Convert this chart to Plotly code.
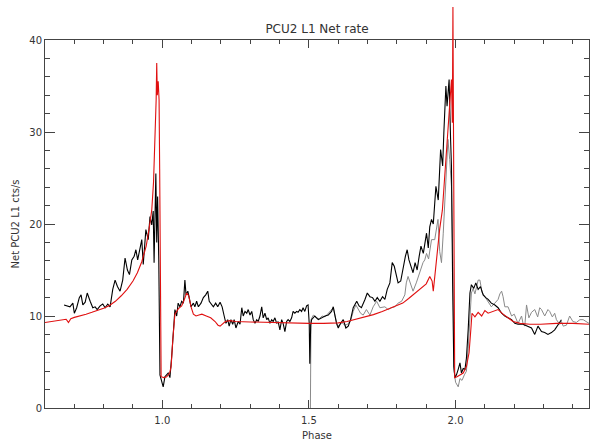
import plotly.graph_objects as go

# ---------------- data ----------------
title_text = "PCU2 L1 Net rate"
x_title = "Phase"
y_title = "Net PCU2 L1 cts/s"
x_range = [0.6, 2.455]
y_range = [0, 40]
x_major = [1.0, 1.5, 2.0]
x_major_labels = ["1.0", "1.5", "2.0"]
y_major = [0, 10, 20, 30, 40]
y_major_labels = ["0", "10", "20", "30", "40"]

# model (red)
red_phase = [0.600, 0.620, 0.640, 0.660, 0.672, 0.680, 0.688, 0.700, 0.720, 0.740,
             0.760, 0.780, 0.800, 0.820, 0.840, 0.860, 0.880, 0.900, 0.915, 0.930,
             0.945, 0.955, 0.964, 0.970, 0.975, 0.979, 0.981, 0.983, 0.986, 0.989,
             0.991, 0.993, 0.996, 1.005, 1.015, 1.025, 1.030, 1.036, 1.043, 1.055,
             1.066, 1.075, 1.083, 1.090, 1.098, 1.106, 1.115, 1.125, 1.135, 1.150,
             1.165, 1.180, 1.190, 1.197, 1.205, 1.215, 1.230, 1.250, 1.300, 1.350,
             1.400, 1.450, 1.500, 1.550, 1.600, 1.630, 1.660, 1.690, 1.720, 1.750,
             1.780, 1.800, 1.820, 1.840, 1.860, 1.880, 1.900, 1.912, 1.920, 1.924,
             1.930, 1.936, 1.946, 1.955, 1.963, 1.975, 1.982, 1.986, 1.989, 1.991,
             1.993, 1.995, 1.997, 2.005, 2.015, 2.026, 2.037, 2.046, 2.052, 2.056,
             2.066, 2.077, 2.089, 2.100, 2.111, 2.128, 2.145, 2.162, 2.179, 2.196,
             2.220, 2.253, 2.290, 2.344, 2.400, 2.455]
red_rate = [9.3, 9.4, 9.55, 9.6, 9.65, 9.3, 9.7, 9.85, 10.0, 10.2,
            10.4, 10.6, 10.85, 11.15, 11.6, 12.2, 12.9, 13.8, 14.7, 15.9,
            17.6, 19.5, 21.5, 24.5, 29.0, 33.5, 37.5, 34.0, 35.5, 33.5,
            26.0, 10.0, 3.4, 3.3, 3.4, 3.8, 4.5, 7.5, 10.2, 10.8,
            11.1, 11.8, 12.5, 12.2, 11.0, 10.2, 10.0, 10.1, 10.2, 10.0,
            9.8, 9.4, 9.0, 8.9, 9.1, 9.4, 9.5, 9.4, 9.35, 9.3,
            9.25, 9.2, 9.2, 9.2, 9.25, 9.4, 9.65, 9.9, 10.15, 10.5,
            10.85, 11.1, 11.4, 11.9, 12.4, 12.9, 13.5, 14.3, 13.8, 12.7,
            14.8, 16.8, 19.5, 21.5, 25.0, 31.0, 34.0, 35.7, 31.0, 43.6,
            30.0, 12.0, 3.3, 3.4, 3.6, 3.8, 4.5, 6.0, 8.5, 10.3,
            9.9, 10.4, 10.0, 10.6, 10.3, 10.5, 10.7, 10.2, 9.8, 9.4,
            9.2, 9.1, 9.1, 9.2, 9.2, 9.1]

# first observation (black)
black_phase = [0.665, 0.674, 0.685, 0.695, 0.700, 0.708, 0.717, 0.723, 0.729, 0.737,
               0.744, 0.754, 0.763, 0.771, 0.778, 0.788, 0.797, 0.805, 0.814, 0.822,
               0.831, 0.839, 0.847, 0.856, 0.865, 0.873, 0.881, 0.888, 0.896, 0.904,
               0.910, 0.916, 0.924, 0.930, 0.935, 0.944, 0.952, 0.958, 0.964, 0.969,
               0.972, 0.975, 0.978, 0.981, 0.984, 0.988, 0.992, 1.003, 1.009, 1.020,
               1.026, 1.032, 1.037, 1.043, 1.049, 1.054, 1.060, 1.066, 1.072, 1.077,
               1.081, 1.087, 1.091, 1.098, 1.106, 1.111, 1.117, 1.123, 1.132, 1.140,
               1.148, 1.155, 1.160, 1.168, 1.174, 1.182, 1.189, 1.197, 1.204, 1.211,
               1.217, 1.223, 1.228, 1.234, 1.240, 1.245, 1.251, 1.259, 1.265, 1.271,
               1.276, 1.282, 1.288, 1.293, 1.299, 1.305, 1.310, 1.316, 1.322, 1.327,
               1.333, 1.339, 1.344, 1.350, 1.356, 1.361, 1.367, 1.373, 1.378, 1.384,
               1.390, 1.395, 1.401, 1.407, 1.412, 1.418, 1.424, 1.429, 1.435, 1.441,
               1.446, 1.452, 1.458, 1.463, 1.469, 1.475, 1.480, 1.486, 1.492, 1.497,
               1.501, 1.503, 1.506, 1.509, 1.520, 1.532, 1.543, 1.555, 1.566, 1.577,
               1.583, 1.589, 1.594, 1.600, 1.606, 1.617, 1.626, 1.634, 1.642, 1.651,
               1.663, 1.671, 1.679, 1.691, 1.699, 1.708, 1.717, 1.725, 1.733, 1.742,
               1.751, 1.759, 1.767, 1.776, 1.784, 1.791, 1.797, 1.804, 1.813, 1.821,
               1.829, 1.835, 1.841, 1.848, 1.855, 1.862, 1.869, 1.876, 1.882, 1.890,
               1.895, 1.901, 1.907, 1.912, 1.918, 1.924, 1.933, 1.941, 1.949, 1.956,
               1.960, 1.967, 1.971, 1.978, 1.983, 1.986, 1.990, 1.994, 1.998, 2.003,
               2.009, 2.015, 2.020, 2.026, 2.032, 2.037, 2.043, 2.049, 2.054, 2.062,
               2.069, 2.077, 2.085, 2.094, 2.103, 2.111, 2.122, 2.134, 2.145, 2.157,
               2.168, 2.179, 2.191, 2.202, 2.213, 2.230, 2.247, 2.259, 2.270, 2.281,
               2.293, 2.304, 2.315, 2.327, 2.338, 2.349, 2.361]
black_rate = [11.2, 11.1, 11.0, 11.4, 10.3, 10.9, 12.0, 12.3, 11.2, 11.5,
              12.5, 11.6, 10.9, 11.0, 10.7, 11.1, 11.3, 10.9, 11.3, 11.0,
              12.9, 13.9, 13.2, 12.7, 13.9, 16.3, 15.0, 14.5, 16.1, 16.5,
              17.2, 16.1, 17.2, 18.3, 15.6, 19.4, 18.3, 20.8, 19.9, 21.4,
              15.8, 22.6, 25.5, 18.0, 23.0, 16.0, 3.6, 2.3, 3.4, 3.8,
              3.3, 5.6, 7.8, 10.7, 10.0, 11.4, 11.0, 11.6, 11.4, 13.9,
              12.3, 12.7, 12.1, 11.0, 11.4, 11.0, 11.6, 11.0, 11.4, 12.0,
              12.3, 12.7, 11.6, 11.2, 11.0, 11.4, 11.0, 11.5, 11.0, 10.0,
              9.2, 9.6, 8.9, 9.6, 9.1, 9.6, 8.7, 9.4, 9.1, 10.9,
              10.0, 10.5, 10.3, 10.7, 10.1, 10.5, 9.6, 9.2, 9.6, 9.4,
              10.0, 11.0, 9.8, 10.3, 9.6, 9.8, 9.2, 9.6, 9.4, 9.8,
              9.2, 9.4, 8.5, 9.6, 9.2, 8.3, 9.4, 9.6, 9.4, 9.8,
              10.5, 10.3, 10.5, 10.4, 10.7, 10.5, 10.9, 10.5, 11.1, 11.2,
              9.2, 4.8, 9.0, 9.6, 10.0, 9.6, 9.8, 10.0, 10.1, 10.5,
              11.0, 10.1, 9.2, 8.7, 9.1, 9.6, 8.7, 8.9, 9.6, 10.9,
              11.6, 11.1, 10.9, 11.8, 12.5, 12.1, 12.0, 11.6, 12.0, 11.6,
              12.1, 11.8, 12.9, 13.6, 15.8, 15.4, 14.5, 13.6, 13.8, 15.4,
              16.5, 17.2, 16.1, 15.4, 14.7, 15.8, 15.0, 16.5, 17.6, 16.8,
              17.9, 19.0, 17.4, 19.7, 20.5, 20.0, 24.1, 22.6, 28.1, 26.3,
              29.9, 35.0, 32.8, 35.7, 29.2, 26.3, 13.6, 4.5, 3.3, 3.6,
              4.2, 4.9, 3.8, 4.3, 4.2, 5.4, 8.5, 12.5, 13.4, 13.0,
              13.6, 12.9, 13.2, 12.3, 12.0, 11.8, 11.4, 11.2, 10.9, 10.3,
              10.0, 9.8, 9.6, 9.2, 9.1, 9.1, 8.9, 8.7, 8.0, 8.9,
              8.3, 8.2, 8.0, 8.2, 8.5, 9.1, 9.6]

# second observation (grey)
gray_phase = [1.505, 1.507, 1.515, 1.525, 1.535, 1.545, 1.555, 1.566, 1.577, 1.583,
              1.589, 1.596, 1.603, 1.612, 1.622, 1.632, 1.642, 1.651, 1.660, 1.668,
              1.676, 1.685, 1.696, 1.708, 1.719, 1.731, 1.742, 1.759, 1.770, 1.781,
              1.793, 1.804, 1.816, 1.827, 1.832, 1.838, 1.844, 1.855, 1.866, 1.878,
              1.889, 1.895, 1.901, 1.908, 1.918, 1.929, 1.940, 1.946, 1.952, 1.958,
              1.963, 1.970, 1.974, 1.980, 1.986, 1.991, 1.995, 2.000, 2.009, 2.015,
              2.022, 2.030, 2.037, 2.043, 2.049, 2.054, 2.060, 2.066, 2.072, 2.077,
              2.083, 2.090, 2.100, 2.111, 2.122, 2.134, 2.145, 2.151, 2.157, 2.162,
              2.168, 2.179, 2.191, 2.200, 2.208, 2.213, 2.225, 2.230, 2.236, 2.242,
              2.250, 2.259, 2.270, 2.280, 2.287, 2.293, 2.304, 2.315, 2.321, 2.330,
              2.338, 2.344, 2.355, 2.361, 2.367, 2.378, 2.389, 2.400, 2.412, 2.424,
              2.435, 2.446, 2.455]
gray_rate = [0.0, 9.6, 10.1, 9.8, 9.7, 10.0, 9.9, 10.3, 10.6, 10.9,
             10.0, 9.1, 8.9, 9.3, 9.0, 9.1, 9.5, 10.5, 11.2, 10.8,
             10.3, 10.1, 10.7, 10.1, 11.0, 11.6, 10.9, 11.0, 10.7, 10.9,
             11.0, 11.4, 11.6, 12.3, 13.6, 14.3, 13.8, 12.7, 13.6, 14.7,
             15.8, 16.1, 16.8, 16.2, 18.3, 18.3, 20.5, 17.0, 15.8, 19.0,
             22.6, 26.0, 29.2, 27.0, 24.1, 15.4, 4.0, 2.8, 2.3, 3.2,
             3.0, 3.6, 4.0, 6.5, 10.5, 12.5, 13.0, 12.4, 13.2, 13.9,
             13.9, 12.6, 12.1, 11.6, 11.0, 11.4, 11.8, 12.4, 12.7, 12.1,
             11.0, 11.0, 10.0, 10.2, 9.6, 9.2, 10.0, 9.2, 8.9, 11.2,
             9.8, 10.4, 10.7, 9.9, 10.9, 10.7, 10.0, 10.7, 10.5, 9.9,
             10.3, 9.6, 9.1, 9.4, 8.9, 9.0, 10.0, 9.4, 9.3, 9.6,
             9.6, 9.4, 9.2]

# ---------------- figure ----------------
W, H = 590, 445
m_l, m_r, m_t, m_b = 45, 1, 5, 37
plot_h = H - m_t - m_b
frame_top_px = 40
main_top = (H - m_b - frame_top_px) / plot_h          # fraction of plot area used by the framed axes
ext_top = y_range[1] / main_top                        # data value at the very top of the extended area

axis_col = "#444444"
font_fam = "DejaVu Sans"

fig = go.Figure()
# framed axes (empty trace so the subplot exists)
fig.add_trace(go.Scatter(x=[], y=[], xaxis="x", yaxis="y", showlegend=False))
# data drawn on an extended, invisible axis pair so the spike can poke above the frame
fig.add_trace(go.Scatter(x=gray_phase, y=gray_rate, mode="lines", xaxis="x2", yaxis="y2",
                         line=dict(color="#8a8a8a", width=1), showlegend=False))
fig.add_trace(go.Scatter(x=black_phase, y=black_rate, mode="lines", xaxis="x2", yaxis="y2",
                         line=dict(color="#000000", width=1.1), showlegend=False))
fig.add_trace(go.Scatter(x=red_phase, y=red_rate, mode="lines", xaxis="x2", yaxis="y2",
                         line=dict(color="#e01010", width=1.1), showlegend=False))

fig.update_layout(
    width=W, height=H,
    margin=dict(l=m_l, r=m_r, t=m_t, b=m_b, autoexpand=False),
    paper_bgcolor="white", plot_bgcolor="rgba(0,0,0,0)",
    font=dict(family=font_fam, color="#333333", size=10),
    hovermode=False,
    title=dict(text=title_text, x=0.5, xref="paper", xanchor="center",
               y=1 - 29 / H, yref="container", yanchor="middle",
               font=dict(size=12, color="#333333", family=font_fam)),
    xaxis=dict(range=x_range, domain=[0, 1], anchor="y", automargin=False,
               showline=True, linecolor=axis_col, linewidth=1, mirror="ticks",
               ticks="inside", ticklen=8, tickcolor=axis_col, tickwidth=1,
               tickvals=x_major, ticktext=x_major_labels, ticklabelstandoff=3,
               minor=dict(dtick=0.1, tick0=0, ticks="inside", ticklen=4, tickcolor=axis_col),
               showgrid=False, zeroline=False,
               tickfont=dict(size=10, color="#333333"),
               title=dict(text=x_title, font=dict(size=10, color="#333333"), standoff=6)),
    yaxis=dict(range=y_range, domain=[0, main_top], anchor="x", automargin=False,
               showline=True, linecolor=axis_col, linewidth=1, mirror="ticks",
               ticks="inside", ticklen=10, tickcolor=axis_col, tickwidth=1,
               tickvals=y_major, ticktext=y_major_labels,
               minor=dict(dtick=2, tick0=0, ticks="inside", ticklen=5, tickcolor=axis_col),
               showgrid=False, zeroline=False,
               tickfont=dict(size=10, color="#333333"),
               title=dict(text=y_title, font=dict(size=10, color="#333333"), standoff=7)),
    xaxis2=dict(range=x_range, domain=[0, 1], anchor="y2", visible=False,
                showgrid=False, zeroline=False),
    yaxis2=dict(range=[0, ext_top], domain=[0, 1], anchor="x2", visible=False,
                showgrid=False, zeroline=False),
)

fig.write_html("out.html",
               config={"displayModeBar": False, "staticPlot": True},
               post_script="document.body.style.margin='0';document.body.style.padding='0';"
                           "document.documentElement.style.overflow='hidden';")
